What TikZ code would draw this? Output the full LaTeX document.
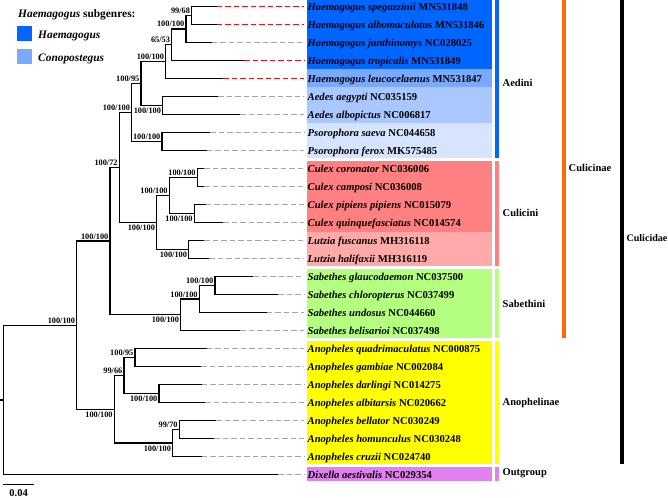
\documentclass[tikz,border=0pt]{standalone}
\usepackage{fontspec}
\setmainfont{Liberation Serif}
\definecolor{cHaem}{RGB}{0,102,255}
\definecolor{cLeu}{RGB}{122,170,255}
\definecolor{cAed}{RGB}{170,200,255}
\definecolor{cPso}{RGB}{214,228,255}
\definecolor{cCul}{RGB}{255,128,128}
\definecolor{cLut}{RGB}{255,170,170}
\definecolor{cSab}{RGB}{180,255,128}
\definecolor{cAno}{RGB}{255,255,0}
\definecolor{cDix}{RGB}{225,128,240}
\definecolor{cOra}{RGB}{255,102,17}
\definecolor{dashgray}{RGB}{165,165,165}
\definecolor{dashred}{RGB}{235,20,20}
\begin{document}
\begin{tikzpicture}[x=1pt,y=-1pt,
  branch/.style={line width=1.3pt,line join=miter},
  graydash/.style={line width=1.1pt,draw=dashgray,dash pattern=on 5.5pt off 3pt},
  reddash/.style={line width=1.1pt,draw=dashred,dash pattern=on 5.5pt off 3pt},
  tiplab/.style={anchor=base west,inner sep=0pt,font=\fontsize{10.6}{12}\selectfont\bfseries},
  supp/.style={inner sep=0pt,anchor=base east,font=\fontsize{8.3}{9}\selectfont\bfseries},
  grplab/.style={anchor=west,inner sep=0pt,font=\fontsize{10.5}{12}\selectfont\bfseries},
  legtxt/.style={anchor=base west,inner sep=0pt,font=\fontsize{11.4}{13}\selectfont\bfseries\itshape}]
\useasboundingbox (0,0) rectangle (668,497);
% colour boxes
\fill[cHaem] (306.7,-2) rectangle (492,69.5);
\fill[cLeu] (306.7,69.5) rectangle (492,87.5);
\fill[cAed] (306.7,87.5) rectangle (492,123.5);
\fill[cPso] (306.7,123.5) rectangle (492,158.3);
\fill[cCul] (306.7,160.9) rectangle (492,231.5);
\fill[cLut] (306.7,231.5) rectangle (492,266.3);
\fill[cSab] (306.7,268.9) rectangle (492,338.3);
\fill[cAno] (306.7,340.9) rectangle (492,464.3);
\fill[cDix] (306.7,466.7) rectangle (492,480.5);
% side strips
\fill[cHaem] (495,-2) rectangle (499,158.3);
\fill[cCul] (495,160.9) rectangle (499,266.3);
\fill[cSab] (495,268.9) rectangle (499,338.3);
\fill[cAno] (495,340.9) rectangle (499,464.3);
\fill[cDix] (495,466.7) rectangle (499,480.5);
\fill[cOra] (562,-2) rectangle (566,338.3);
\fill[black] (620,-2) rectangle (624,464.3);
\node[grplab] (gAed) at (502.5,83.3) {Aedini};
\node[grplab] (gCul) at (502.5,213) {Culicini};
\node[grplab] (gSab) at (502.5,303.5) {Sabethini};
\node[grplab] (gAno) at (502.5,403) {Anophelinae};
\node[grplab] (gOut) at (502.5,473.5) {Outgroup};
\node[grplab] (gCulicinae) at (568.5,168) {Culicinae};
\node[grplab,font=\fontsize{10.1}{12}\selectfont\bfseries] (gCulicidae) at (626.3,238) {Culicidae};
% tips
\foreach \i/\xe/\ds/\sp/\acc in {
 0/216.7/reddash/Haemagogus spegazzinii/MN531848,
 1/216.7/reddash/Haemagogus albomaculatus/MN531846,
 2/211.7/graydash/Haemagogus janthinomys/NC028025,
 3/244/reddash/Haemagogus tropicalis/MN531849,
 4/223.3/reddash/Haemagogus leucocelaenus/MN531847,
 5/218.3/graydash/Aedes aegypti/NC035159,
 6/240/graydash/Aedes albopictus/NC006817,
 7/210/graydash/Psorophora saeva/NC044658,
 8/206.7/graydash/Psorophora ferox/MK575485,
 9/204/graydash/Culex coronator/NC036006,
 10/204/graydash/Culex camposi/NC036008,
 11/205.7/graydash/Culex pipiens pipiens/NC015079,
 12/223.3/graydash/Culex quinquefasciatus/NC014574,
 13/204.3/graydash/Lutzia fuscanus/MH316118,
 14/209.3/graydash/Lutzia halifaxii/MH316119,
 15/253.3/graydash/Sabethes glaucodaemon/NC037500,
 16/278.3/graydash/Sabethes chloropterus/NC037499,
 17/266.7/graydash/Sabethes undosus/NC044660,
 18/240/graydash/Sabethes belisarioi/NC037498,
 19/206.7/graydash/Anopheles quadrimaculatus/NC000875,
 20/201/graydash/Anopheles gambiae/NC002084,
 21/201.7/graydash/Anopheles darlingi/NC014275,
 22/205/graydash/Anopheles albitarsis/NC020662,
 23/216/graydash/Anopheles bellator/NC030249,
 24/214.3/graydash/Anopheles homunculus/NC030248,
 25/201.7/graydash/Anopheles cruzii/NC024740,
 26/278.3/graydash/Dixella aestivalis/NC029354}{
  \pgfmathsetmacro\yy{6.5+18*\i}
  \coordinate (t\i) at (\xe,\yy);
  \coordinate (e\i) at (304,\yy);
  \draw[\ds] (t\i) -- (e\i);
  \node[tiplab] (lab\i) at (307.5,{\yy+3.6}) {\textit{\sp} \acc};
}
% internal nodes
\coordinate (root) at (3.3,399.85);
\coordinate (stub) at (0,399.85);
\coordinate (nCulicidae) at (76.7,325.2);
\coordinate (nCulicinae) at (110,241.1);
\coordinate (nAC) at (119.3,167.5);
\coordinate (nAedini) at (131.7,112.5);
\coordinate (nHA) at (141,83.6);
\coordinate (nH) at (165.7,61.6);
\coordinate (nSixFive) at (171.7,44.75);
\coordinate (nHone) at (186,29);
\coordinate (nNineEight) at (191.7,15.5);
\coordinate (nAedes) at (162.7,105.5);
\coordinate (nPs) at (162,141.5);
\coordinate (nCulicini) at (156.7,222.5);
\coordinate (nCulex) at (169.3,195.5);
\coordinate (nCc) at (197.3,177.5);
\coordinate (nCq) at (194.3,213.5);
\coordinate (nLut) at (188.7,249.5);
\coordinate (nSab) at (180.7,314.75);
\coordinate (nSu) at (199.3,299);
\coordinate (nSgc) at (215,285.5);
\coordinate (nAnoph) at (114.3,409.25);
\coordinate (nNineSix) at (124,375.5);
\coordinate (nAq) at (135,357.5);
\coordinate (nAd) at (159,393.5);
\coordinate (nAb) at (172.7,443);
\coordinate (nNineSeven) at (179.3,429.5);
\draw[branch] (stub) -- (root);
\foreach \p/\c in {root/nCulicidae,root/t26,nCulicidae/nCulicinae,nCulicidae/nAnoph,
  nCulicinae/nAC,nCulicinae/nSab,nAC/nAedini,nAC/nCulicini,nAedini/nHA,nAedini/nPs,
  nHA/nH,nHA/nAedes,nH/nSixFive,nH/t4,nSixFive/nHone,nSixFive/t3,nHone/nNineEight,nHone/t2,
  nNineEight/t0,nNineEight/t1,nAedes/t5,nAedes/t6,nPs/t7,nPs/t8,
  nCulicini/nCulex,nCulicini/nLut,nCulex/nCc,nCulex/nCq,nCc/t9,nCc/t10,nCq/t11,nCq/t12,
  nLut/t13,nLut/t14,nSab/nSu,nSab/t18,nSu/nSgc,nSu/t17,nSgc/t15,nSgc/t16,
  nAnoph/nNineSix,nAnoph/nAb,nNineSix/nAq,nNineSix/nAd,nAq/t19,nAq/t20,nAd/t21,nAd/t22,
  nAb/nNineSeven,nAb/t25,nNineSeven/t23,nNineSeven/t24}{
  \draw[branch] (\p) |- (\c);
}
% support values (shift 2 = above, -8 = below)
\foreach \n/\a/\b/\s in {nCulicidae/100/100/2,nCulicinae/100/100/2,nAC/100/72/2,
  nAedini/100/100/2,nHA/100/95/2,nH/100/100/2,nSixFive/65/53/2,nHone/100/100/2,
  nNineEight/99/68/2,nAedes/100/100/-8,nPs/100/100/2,nCulicini/100/100/-8,
  nCulex/100/100/2,nCc/100/100/2,nCq/100/100/-8,nLut/100/100/-8,nSab/100/100/-8,
  nSu/100/100/2,nSgc/100/100/2,nAnoph/100/100/-8,nNineSix/99/66/2,nAq/100/95/2,
  nAd/100/100/-8,nAb/100/100/-8,nNineSeven/99/70/2}{
  \node[supp] (s\n) at ([xshift=-1.5pt,yshift=\s pt]\n) {\a/\b};
}
% scale bar
\coordinate (sbA) at (3.3,484.3);
\coordinate (sbB) at (34,484.3);
\draw[branch] (sbA) -- (sbB);
\node[anchor=base,inner sep=0pt,font=\fontsize{10.5}{12}\selectfont\bfseries] (sbl) at (18.6,496) {0.04};
% legend
\node[anchor=base west,inner sep=0pt,font=\fontsize{11.4}{13}\selectfont\bfseries] (legT) at (18,17.3) {\textit{Haemagogus} subgenres:};
\fill[cHaem] (17,25.7) rectangle (32,40.7);
\node[legtxt] (legA) at (38,38.5) {Haemagogus};
\fill[cLeu] (17,49.3) rectangle (32,64.3);
\node[legtxt] (legB) at (38,62) {Conopostegus};
\end{tikzpicture}
\end{document}
